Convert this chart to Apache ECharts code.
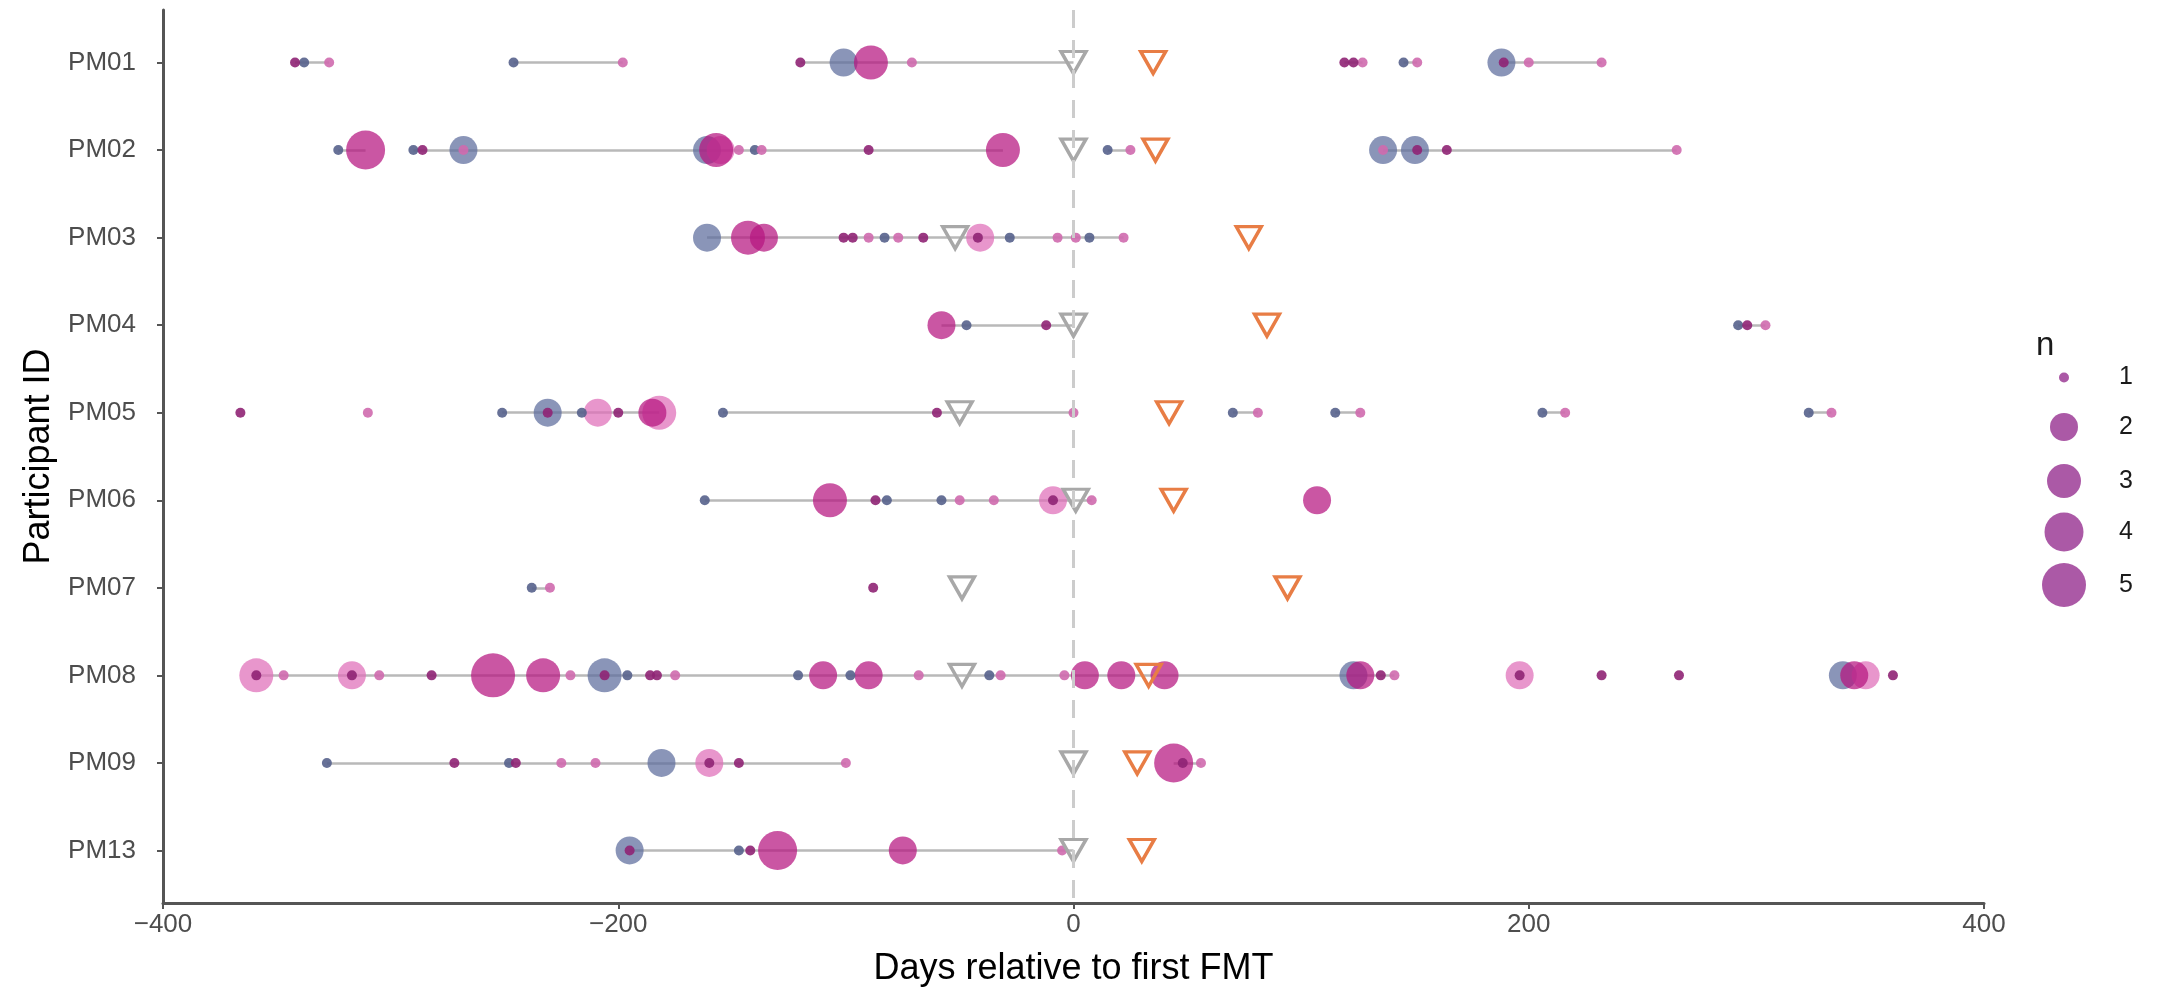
<!DOCTYPE html>
<html>
<head>
<meta charset="utf-8">
<title>Days relative to first FMT</title>
<script src="https://cdn.jsdelivr.net/npm/echarts@6/dist/echarts.min.js"></script>
<style>
  html, body { margin: 0; padding: 0; background: #fff; }
  #chart { width: 2162px; height: 994px; }
</style>
</head>
<body>
<div id="chart"></div>
<script>
// participants on the y axis (top to bottom)
const participants = ['PM01', 'PM02', 'PM03', 'PM04', 'PM05', 'PM06', 'PM07', 'PM08', 'PM09', 'PM13'];

// samples: [day, participant, n]
const bluePoints = [
  [-338, 'PM01', 1], [-246, 'PM01', 1], [-101, 'PM01', 2], [145, 'PM01', 1], [188, 'PM01', 2],
  [-323, 'PM02', 1], [-290, 'PM02', 1], [-268, 'PM02', 2], [-161, 'PM02', 2], [-140, 'PM02', 1], [15, 'PM02', 1], [136, 'PM02', 2], [150, 'PM02', 2],
  [-161, 'PM03', 2], [-83, 'PM03', 1], [-28, 'PM03', 1], [7, 'PM03', 1],
  [-47, 'PM04', 1], [292, 'PM04', 1],
  [-251, 'PM05', 1], [-231, 'PM05', 2], [-216, 'PM05', 1], [-154, 'PM05', 1], [70, 'PM05', 1], [115, 'PM05', 1], [206, 'PM05', 1], [323, 'PM05', 1],
  [-162, 'PM06', 1], [-82, 'PM06', 1], [-58, 'PM06', 1],
  [-238, 'PM07', 1],
  [-206, 'PM08', 3], [-196, 'PM08', 1], [-121, 'PM08', 1], [-98, 'PM08', 1], [-37, 'PM08', 1], [123, 'PM08', 2], [338, 'PM08', 2],
  [-328, 'PM09', 1], [-248, 'PM09', 1], [-181, 'PM09', 2],
  [-195, 'PM13', 2], [-147, 'PM13', 1]
];
const magentaPoints = [
  [-342, 'PM01', 1], [-120, 'PM01', 1], [-89, 'PM01', 3], [119, 'PM01', 1], [123, 'PM01', 1], [189, 'PM01', 1],
  [-311, 'PM02', 4], [-286, 'PM02', 1], [-157, 'PM02', 3], [-90, 'PM02', 1], [-31, 'PM02', 3], [151, 'PM02', 1], [164, 'PM02', 1],
  [-143, 'PM03', 3], [-136, 'PM03', 2], [-101, 'PM03', 1], [-97, 'PM03', 1], [-66, 'PM03', 1], [-42, 'PM03', 1],
  [-58, 'PM04', 2], [-12, 'PM04', 1], [296, 'PM04', 1],
  [-366, 'PM05', 1], [-231, 'PM05', 1], [-200, 'PM05', 1], [-185, 'PM05', 2], [-60, 'PM05', 1],
  [-107, 'PM06', 3], [-87, 'PM06', 1], [-9, 'PM06', 1], [107, 'PM06', 2],
  [-88, 'PM07', 1],
  [-359, 'PM08', 1], [-317, 'PM08', 1], [-282, 'PM08', 1], [-255, 'PM08', 5], [-233, 'PM08', 3], [-206, 'PM08', 1], [-186, 'PM08', 1], [-183, 'PM08', 1],
  [-110, 'PM08', 2], [-90, 'PM08', 2], [5, 'PM08', 2], [21, 'PM08', 2], [40, 'PM08', 2], [126, 'PM08', 2], [135, 'PM08', 1], [196, 'PM08', 1],
  [232, 'PM08', 1], [266, 'PM08', 1], [343, 'PM08', 2], [360, 'PM08', 1],
  [-272, 'PM09', 1], [-245, 'PM09', 1], [-160, 'PM09', 1], [-147, 'PM09', 1], [44, 'PM09', 4], [48, 'PM09', 1],
  [-195, 'PM13', 1], [-142, 'PM13', 1], [-130, 'PM13', 4], [-75, 'PM13', 2]
];
const pinkPoints = [
  [-327, 'PM01', 1], [-198, 'PM01', 1], [-71, 'PM01', 1], [127, 'PM01', 1], [151, 'PM01', 1], [200, 'PM01', 1], [232, 'PM01', 1],
  [-268, 'PM02', 1], [-155, 'PM02', 2], [-147, 'PM02', 1], [-137, 'PM02', 1], [25, 'PM02', 1], [136, 'PM02', 1], [265, 'PM02', 1],
  [-90, 'PM03', 1], [-77, 'PM03', 1], [-41, 'PM03', 2], [-7, 'PM03', 1], [1, 'PM03', 1], [22, 'PM03', 1],
  [304, 'PM04', 1],
  [-310, 'PM05', 1], [-209, 'PM05', 2], [-182, 'PM05', 3], [0, 'PM05', 1], [81, 'PM05', 1], [126, 'PM05', 1], [216, 'PM05', 1], [333, 'PM05', 1],
  [-50, 'PM06', 1], [-35, 'PM06', 1], [-9, 'PM06', 2], [8, 'PM06', 1],
  [-230, 'PM07', 1],
  [-359, 'PM08', 3], [-347, 'PM08', 1], [-317, 'PM08', 2], [-305, 'PM08', 1], [-221, 'PM08', 1], [-175, 'PM08', 1], [-68, 'PM08', 1], [-32, 'PM08', 1],
  [-4, 'PM08', 1], [141, 'PM08', 1], [196, 'PM08', 2], [348, 'PM08', 2],
  [-225, 'PM09', 1], [-210, 'PM09', 1], [-160, 'PM09', 2], [-100, 'PM09', 1], [56, 'PM09', 1],
  [-5, 'PM13', 1]
];

// grey connecting segments: [participant, from day, to day]
const segments = [
  ['PM01', -342, -327], ['PM01', -246, -198], ['PM01', -120, 0], ['PM01', 119, 127], ['PM01', 145, 151], ['PM01', 188, 232],
  ['PM02', -323, -311], ['PM02', -290, -31], ['PM02', 15, 25], ['PM02', 136, 265],
  ['PM03', -161, 22],
  ['PM04', -58, 0], ['PM04', 292, 304],
  ['PM05', -251, -182], ['PM05', -154, 0], ['PM05', 70, 81], ['PM05', 115, 126], ['PM05', 206, 216], ['PM05', 323, 333],
  ['PM06', -162, 8],
  ['PM07', -238, -230],
  ['PM08', -359, 141],
  ['PM09', -328, -100], ['PM09', 44, 56],
  ['PM13', -195, 0]
];

// triangles, one per participant (same order as participants)
const greyTriangleDays = [0, 0, -52, 0, -50, 1, -49, -49, 0, 0];
const fmtTriangleDays = [35, 36, 77, 85, 42, 44, 94, 33, 28, 30];

const sizeLevels = [1, 2, 3, 4, 5];
const xTicks = [-400, -200, 0, 200, 400];

// styling
const symbolSizes = [10, 28, 34, 39, 44];
const font = 'Liberation Sans, Arial, Helvetica, sans-serif';

function toXY(pts) {
  return pts.map(p => [p[0], participants.indexOf(p[1]), p[2]]);
}

function pointSeries(name, pts, color, big) {
  let data = toXY(pts).filter(d => big ? d[2] > 1 : d[2] === 1);
  data.sort((a, b) => b[2] - a[2]);
  return {
    type: 'scatter',
    name: name,
    data: data,
    symbol: 'circle',
    symbolSize: d => symbolSizes[d[2] - 1],
    itemStyle: { color: color, opacity: big ? 0.72 : 0.9 },
    silent: true,
    z: 3
  };
}

function triangleSeries(days, color) {
  return {
    type: 'scatter',
    data: days.map((d, i) => [d, i]),
    symbol: 'triangle',
    symbolRotate: 180,
    symbolSize: [25, 22],
    itemStyle: { color: 'rgba(255,255,255,0)', borderColor: color, borderWidth: 3.4, opacity: 1 },
    silent: true,
    z: 4
  };
}

const chart = echarts.init(document.getElementById('chart'));

const legendX = 2064;
const legendTextX = 2119;
const legendKeyY = [370, 427, 481, 532, 585];
const legendColor = '#a2479c';

let series = [
  {
    type: 'lines',
    coordinateSystem: 'cartesian2d',
    data: segments.map(s => ({ coords: [[s[1], participants.indexOf(s[0])], [s[2], participants.indexOf(s[0])]] })),
    lineStyle: { color: '#b9b9b9', width: 2.6, opacity: 1 },
    silent: true,
    z: 2,
    markLine: {
      silent: true,
      symbol: 'none',
      label: { show: false },
      lineStyle: { color: '#cccccc', type: [18, 12], width: 3 },
      data: [{ xAxis: 0 }]
    }
  },
  pointSeries('blue', bluePoints, '#5d6c9c', true),
  pointSeries('pink', pinkPoints, '#df6eb8', true),
  pointSeries('magenta', magentaPoints, '#b5157f', true),
  pointSeries('blue1', bluePoints, '#56628c', false),
  pointSeries('pink1', pinkPoints, '#cf6aae', false),
  pointSeries('magenta1', magentaPoints, '#8f2474', false),
  triangleSeries(greyTriangleDays, '#a8a8a8'),
  triangleSeries(fmtTriangleDays, '#e87d45')
];

sizeLevels.forEach(n => {
  series.push({
    type: 'scatter',
    name: String(n),
    data: [],
    symbol: 'circle',
    itemStyle: { color: legendColor, opacity: 0.9 }
  });
});

const legends = sizeLevels.map((n, i) => {
  const s = symbolSizes[i];
  return {
    data: [{ name: String(n), icon: 'circle' }],
    selectedMode: false,
    left: legendX - s / 2,
    top: legendKeyY[i] - s / 2,
    itemWidth: s,
    itemHeight: s,
    padding: 0,
    textStyle: {
      fontSize: 25,
      color: '#1a1a1a',
      fontFamily: font,
      padding: [0, 0, 0, legendTextX - (legendX + s / 2 + 5)]
    }
  };
});

chart.setOption({
  backgroundColor: '#ffffff',
  animation: false,
  textStyle: { fontFamily: font },
  title: {
    text: 'n',
    left: 2036,
    top: 329,
    padding: 0,
    textStyle: { fontSize: 33, fontWeight: 'normal', color: '#1a1a1a', fontFamily: font }
  },
  legend: legends,
  grid: { left: 163, right: 178, top: 10, bottom: 91 },
  xAxis: {
    type: 'value',
    min: -400,
    max: 400,
    interval: 200,
    name: 'Days relative to first FMT',
    nameLocation: 'middle',
    nameGap: 48,
    nameTextStyle: { fontSize: 36, color: '#000', fontFamily: font },
    splitLine: { show: false },
    axisLine: { show: true, onZero: false, lineStyle: { color: '#555555', width: 3 } },
    axisTick: { show: true, length: 6, lineStyle: { color: '#555555', width: 2 } },
    axisLabel: {
      fontSize: 26,
      color: '#4d4d4d',
      margin: 9,
      formatter: v => xTicks.includes(v) ? String(v).replace('-', '\u2212') : ''
    }
  },
  yAxis: {
    type: 'value',
    inverse: true,
    min: -0.6,
    max: 9.6,
    name: 'Participant ID',
    nameLocation: 'middle',
    nameGap: 106,
    nameRotate: 90,
    nameTextStyle: { fontSize: 36, color: '#000', fontFamily: font },
    splitLine: { show: false },
    axisLine: { show: true, onZero: false, lineStyle: { color: '#555555', width: 3 } },
    axisTick: {
      show: true,
      length: 6,
      customValues: participants.map((p, i) => i),
      lineStyle: { color: '#555555', width: 2 }
    },
    axisLabel: {
      fontSize: 26,
      color: '#4d4d4d',
      margin: 27,
      customValues: participants.map((p, i) => i),
      formatter: v => participants[Math.round(v)] || ''
    }
  },
  series: series
});
</script>
</body>
</html>
